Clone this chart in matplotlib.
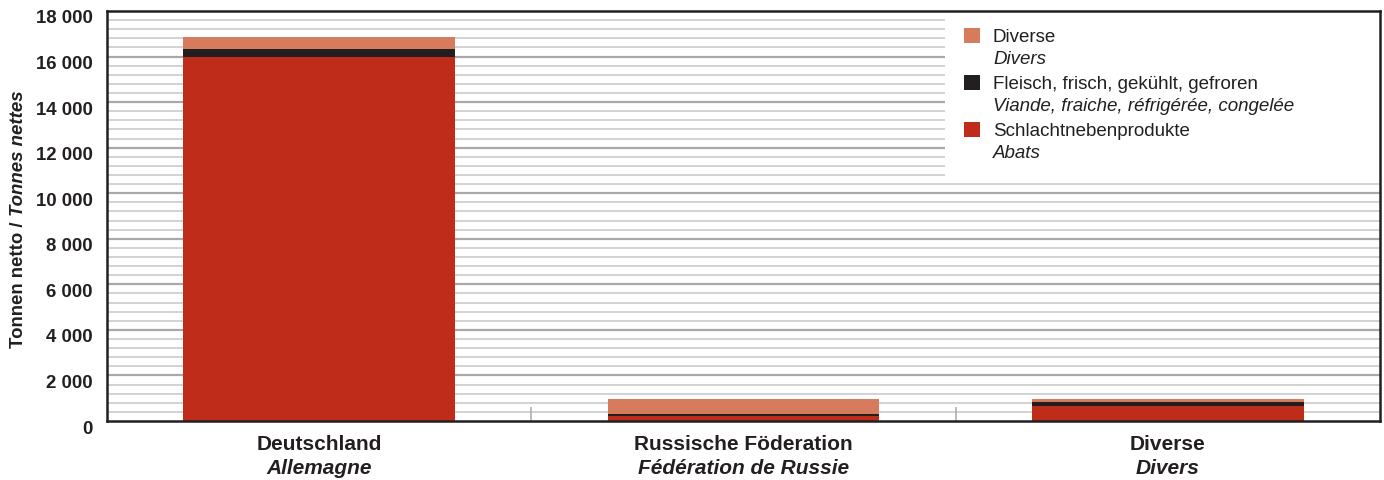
import matplotlib
matplotlib.use("Agg")
import matplotlib.pyplot as plt
from matplotlib.patches import Rectangle
from matplotlib.ticker import FuncFormatter, MultipleLocator
import matplotlib.transforms as mtransforms
import numpy as np

# Data (tonnes net)
countries_de = ["Deutschland", "Russische Föderation", "Diverse"]
countries_fr = ["Allemagne", "Fédération de Russie", "Divers"]
schlachtneben = [16000, 210, 660]      # Schlachtnebenprodukte / Abats
fleisch = [330, 100, 190]              # Fleisch, frisch, gekühlt, gefroren
diverse = [520, 650, 120]              # Diverse / Divers

series_de = ["Diverse", "Fleisch, frisch, gekühlt, gefroren", "Schlachtnebenprodukte"]
series_fr = ["Divers", "Viande, fraiche, réfrigérée, congelée", "Abats"]

C_RED = "#bf2c1a"
C_BLACK = "#231f20"
C_ORANGE = "#d77b5d"
colors = [C_ORANGE, C_BLACK, C_RED]

FONT = "Liberation Sans"
plt.rcParams["font.family"] = [FONT, "DejaVu Sans"]

fig = plt.figure(figsize=(13.84, 4.81), dpi=100)
ax = fig.add_axes([107 / 1384, 1 - 422 / 481, (1380 - 107) / 1384, (422 - 12) / 481])

x = np.arange(len(countries_de))
w = 0.641
s1 = np.array(schlachtneben)
s2 = np.array(fleisch)
s3 = np.array(diverse)
ax.bar(x, s1, w, color=C_RED, zorder=3)
ax.bar(x, s2, w, bottom=s1, color=C_BLACK, zorder=3)
ax.bar(x, s3, w, bottom=s1 + s2, color=C_ORANGE, zorder=3)

ax.set_xlim(-0.5, 2.5)
ax.set_ylim(0, 18000)

# Horizontal grid: fine lines every 400, darker every 2000
for v in np.arange(400, 18000, 400):
    major = (v % 2000 == 0)
    ax.axhline(v, color="#a8a8a8" if major else "#cfcfcf",
               lw=1.6 if major else 1.3, zorder=1)

ax.yaxis.set_major_locator(MultipleLocator(2000))
ax.yaxis.set_major_formatter(FuncFormatter(lambda v, p: f"{int(v):,}".replace(",", " ")))
ax.tick_params(axis="y", length=0, pad=10.5, labelsize=13.4, labelcolor="#231f20")
shift = mtransforms.ScaledTranslation(0, -5 / 100, fig.dpi_scale_trans)
for lab in ax.get_yticklabels():
    lab.set_fontweight("bold")
    lab.set_transform(lab.get_transform() + shift)

# Category separators on the x axis
ax.set_xticks([])
ax.set_xticks([0.5, 1.5], minor=True)
ax.tick_params(axis="x", which="minor", direction="in", length=10, width=1.2, color="#b0b0b0")

for sp in ax.spines.values():
    sp.set_color("#231f20")
    sp.set_linewidth(1.8)
    sp.set_zorder(5)

# Two-line category labels
for xi, de, fr in zip(x, countries_de, countries_fr):
    ax.text(xi, -0.055, de, transform=ax.get_xaxis_transform(), ha="center", va="center",
            fontsize=15, fontweight="bold", color="#231f20")
    ax.text(xi, -0.113, fr, transform=ax.get_xaxis_transform(), ha="center", va="center",
            fontsize=15, fontweight="bold", fontstyle="italic", color="#231f20")

# Y axis label, upright German and italic French parts
t1 = fig.text(0.0, 0, "Tonnen netto / ", rotation=90, fontsize=13.4, fontweight="bold",
              color="#231f20", ha="center", va="bottom")
t2 = fig.text(0.0, 0, "Tonnes nettes", rotation=90, fontsize=13.4, fontweight="bold",
              fontstyle="italic", color="#231f20", ha="center", va="bottom")
fig.canvas.draw()
r = fig.canvas.get_renderer()
h1 = t1.get_window_extent(r).height
h2 = t2.get_window_extent(r).height
H = fig.bbox.height
xlab = 19 / 1384
y_center = 1 - 219 / 481
y0 = y_center - (h1 + h2) / 2 / H
t1.set_position((xlab, y0))
t2.set_position((xlab, y0 + h1 / H))

# Legend panel on white background
lx0 = (945 - 107) / (1380 - 107)
ly0 = (422 - 180) / (422 - 12)
ax.add_patch(Rectangle((lx0, ly0), 1 - lx0, 1 - ly0, transform=ax.transAxes,
                       facecolor="white", edgecolor="none", zorder=4))

def px_x(px):
    return (px - 107) / (1380 - 107)

def px_y(py):
    return (422 - py) / (422 - 12)

row_top = [29, 76, 123]
for rt, c, de, fr in zip(row_top, colors, series_de, series_fr):
    ax.add_patch(Rectangle((px_x(964), px_y(rt + 15)), 16 / 1273, 15 / 410,
                           transform=ax.transAxes, facecolor=c, edgecolor="none", zorder=6))
    ax.text(px_x(993), px_y(rt + 9), de, transform=ax.transAxes, ha="left", va="center",
            fontsize=13.5, color="#231f20", zorder=6)
    ax.text(px_x(993), px_y(rt + 31), fr, transform=ax.transAxes, ha="left", va="center",
            fontsize=13.5, fontstyle="italic", color="#231f20", zorder=6)

fig.savefig("out.png", dpi=100)
